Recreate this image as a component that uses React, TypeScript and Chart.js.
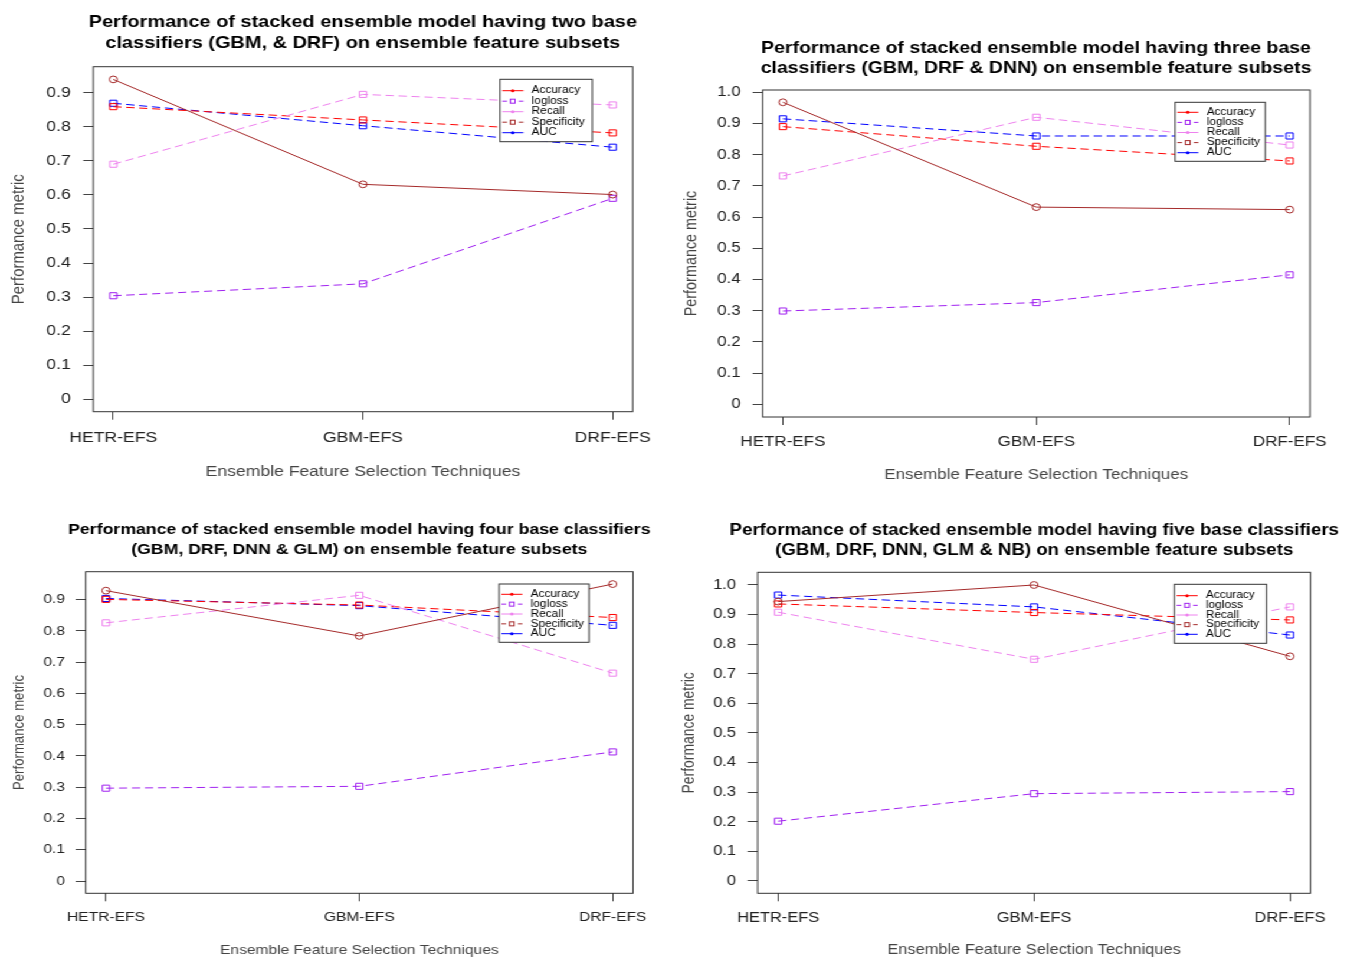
import React, { useEffect, useRef } from 'react';
import { Chart, registerables } from 'chart.js';

Chart.register(...registerables);

// horizontal stretch of the reference picture
const S = 1.18;
const FONT = '"Liberation Sans", Arial, Helvetica, sans-serif';
Chart.defaults.font.family = FONT;

// ---------------- data ----------------
const categories = ['HETR-EFS', 'GBM-EFS', 'DRF-EFS'];
const seriesNames = ['Accuracy', 'logloss', 'Recall', 'Specificity', 'AUC'];
const yTicksTo09 = [0, 0.1, 0.2, 0.3, 0.4, 0.5, 0.6, 0.7, 0.8, 0.9];
const yTicksTo10 = [0, 0.1, 0.2, 0.3, 0.4, 0.5, 0.6, 0.7, 0.8, 0.9, 1.0];

// two base classifiers (GBM, DRF)
const accuracy2 = [0.939, 0.631, 0.601];
const logloss2 = [0.304, 0.339, 0.59];
const recall2 = [0.69, 0.895, 0.864];
const specificity2 = [0.859, 0.82, 0.782];
const auc2 = [0.869, 0.803, 0.74];

// three base classifiers (GBM, DRF, DNN)
const accuracy3 = [0.968, 0.632, 0.624];
const logloss3 = [0.299, 0.326, 0.415];
const recall3 = [0.732, 0.92, 0.831];
const specificity3 = [0.89, 0.827, 0.78];
const auc3 = [0.915, 0.86, 0.86];

// four base classifiers (GBM, DRF, DNN, GLM)
const accuracy4 = [0.929, 0.784, 0.95];
const logloss4 = [0.297, 0.303, 0.413];
const recall4 = [0.826, 0.914, 0.665];
const specificity4 = [0.901, 0.883, 0.843];
const auc4 = [0.904, 0.881, 0.818];

// five base classifiers (GBM, DRF, DNN, GLM, NB)
const accuracy5 = [0.944, 1.0, 0.759];
const logloss5 = [0.202, 0.295, 0.302];
const recall5 = [0.908, 0.749, 0.926];
const specificity5 = [0.936, 0.907, 0.882];
const auc5 = [0.966, 0.926, 0.831];

// ---------------- styles ----------------
const lineColors = ['#A52A2A', '#A020F0', '#EE82EE', '#FF0000', '#0000FF'];
const lineDashed = [false, true, true, true, true];
const pointShapes = ['circle', 'rect', 'rect', 'rect', 'rect'];
const pointSizes = [3.4, 4.3, 4.3, 4.3, 4.3];
// legend as printed in the figure
const legendColors = ['#FF0000', '#A020F0', '#EE82EE', '#A52A2A', '#0000FF'];
const legendDashed = [false, true, false, true, false];
const legendShapes = ['circle', 'rect', 'circle', 'rect', 'circle'];

interface PanelSpec {
  title: string[];
  titleSize: number;
  titleY: [number, number];
  canvasLeft: number;
  canvasTop: number;
  canvasBottom: number;
  area: { L: number; R: number; T: number; B: number };
  yMin: number;
  yMax: number;
  yTicks: number[];
  axisFont: number;
  yLabelRight: number;
  xLabelY: number;
  yTitleX: number;
  xTitleY: number;
  legend: { l: number; t: number; r: number; b: number; first: number; gap: number };
  values: number[][];
}

const panels: PanelSpec[] = [
  {
    title: [
      'Performance of stacked ensemble model having two base',
      'classifiers (GBM, & DRF) on ensemble feature subsets',
    ],
    titleSize: 16.9,
    titleY: [22, 43],
    canvasLeft: 0,
    canvasTop: 0,
    canvasBottom: 495,
    area: { L: 93.3, R: 632.7, T: 66.7, B: 411.7 },
    yMin: -0.0364,
    yMax: 0.9763,
    yTicks: yTicksTo09,
    axisFont: 14.9,
    yLabelRight: 70.7,
    xLabelY: 437.7,
    yTitleX: 19,
    xTitleY: 472,
    legend: { l: 500, t: 79.3, r: 592.3, b: 141.7, first: 11.4, gap: 10.5 },
    values: [accuracy2, logloss2, recall2, specificity2, auc2],
  },
  {
    title: [
      'Performance of stacked ensemble model having three base',
      'classifiers (GBM, DRF & DNN) on ensemble feature subsets',
    ],
    titleSize: 16.5,
    titleY: [48, 68],
    canvasLeft: 675,
    canvasTop: 0,
    canvasBottom: 495,
    area: { L: 762.7, R: 1310, T: 90, B: 417 },
    yMin: -0.0407,
    yMax: 1.0074,
    yTicks: yTicksTo10,
    axisFont: 14.4,
    yLabelRight: 740.7,
    xLabelY: 441.7,
    yTitleX: 691,
    xTitleY: 475,
    legend: { l: 1175.1, t: 102.3, r: 1265.3, b: 161.3, first: 10, gap: 10.1 },
    values: [accuracy3, logloss3, recall3, specificity3, auc3],
  },
  {
    title: [
      'Performance of stacked ensemble model having four base classifiers',
      '(GBM, DRF, DNN & GLM) on ensemble feature subsets',
    ],
    titleSize: 15,
    titleY: [530, 550],
    canvasLeft: 0,
    canvasTop: 495,
    canvasBottom: 958,
    area: { L: 85.7, R: 633, T: 571.7, B: 893.3 },
    yMin: -0.0393,
    yMax: 0.9896,
    yTicks: yTicksTo09,
    axisFont: 13.2,
    yLabelRight: 65,
    xLabelY: 917.7,
    yTitleX: 19.5,
    xTitleY: 950,
    legend: { l: 499.1, t: 584, r: 589, b: 642.3, first: 10.3, gap: 9.85 },
    values: [accuracy4, logloss4, recall4, specificity4, auc4],
  },
  {
    title: [
      'Performance of stacked ensemble model having five base classifiers',
      '(GBM, DRF, DNN, GLM & NB) on ensemble feature subsets',
    ],
    titleSize: 15.8,
    titleY: [531, 551],
    canvasLeft: 675,
    canvasTop: 495,
    canvasBottom: 958,
    area: { L: 757.7, R: 1310.5, T: 572.3, B: 893.3 },
    yMin: -0.0416,
    yMax: 1.0429,
    yTicks: yTicksTo10,
    axisFont: 13.9,
    yLabelRight: 736,
    xLabelY: 917.7,
    yTitleX: 689.5,
    xTitleY: 950,
    legend: { l: 1174.4, t: 584.3, r: 1266.6, b: 643.3, first: 11.4, gap: 9.65 },
    values: [accuracy5, logloss5, recall5, specificity5, auc5],
  },
];

// ---------------- plugins ----------------
const framePlugin = {
  id: 'rFrame',
  afterDraw(chart: any) {
    const { ctx, chartArea: a } = chart;
    ctx.save();
    ctx.strokeStyle = '#333';
    ctx.lineWidth = 1;
    ctx.setLineDash([]);
    ctx.strokeRect(a.left, a.top, a.right - a.left, a.bottom - a.top);
    ctx.restore();
  },
};

const legendPlugin = {
  id: 'rLegend',
  afterDraw(chart: any, _args: any, o: any) {
    const { ctx } = chart;
    const { l, t, r, b, rows, x1, x2, mx, tx } = o;
    ctx.save();
    ctx.fillStyle = '#ffffff';
    ctx.fillRect(l, t, r - l, b - t);
    ctx.strokeStyle = '#333';
    ctx.lineWidth = 1;
    ctx.strokeRect(l, t, r - l, b - t);
    ctx.font = `10px ${FONT}`;
    ctx.textBaseline = 'middle';
    ctx.textAlign = 'left';
    seriesNames.forEach((name, i) => {
      const y = rows[i];
      ctx.strokeStyle = legendColors[i];
      ctx.lineWidth = 1;
      ctx.setLineDash(legendDashed[i] ? [4, 3] : []);
      ctx.beginPath();
      ctx.moveTo(x1, y);
      ctx.lineTo(x2, y);
      ctx.stroke();
      ctx.setLineDash([]);
      if (legendShapes[i] === 'circle') {
        ctx.fillStyle = legendColors[i];
        ctx.beginPath();
        ctx.arc(mx, y, 1.5, 0, Math.PI * 2);
        ctx.fill();
      } else {
        ctx.fillStyle = '#fff';
        ctx.fillRect(mx - 2, y - 2, 4, 4);
        ctx.strokeRect(mx - 2, y - 2, 4, 4);
      }
      ctx.fillStyle = '#000';
      ctx.fillText(name, tx, y);
    });
    ctx.restore();
  },
};

// ---------------- geometry/config ----------------
function geometry(p: PanelSpec) {
  const Lc = p.canvasLeft;
  const Tc = p.canvasTop;
  const center = (p.area.L + p.area.R) / 2;
  const Rc = 2 * center - Lc;
  const widthU = Math.round((Rc - Lc) / S);
  const height = p.canvasBottom - Tc;
  return { Lc, Tc, widthU, height };
}

function makeConfig(p: PanelSpec) {
  const { Lc, Tc, widthU, height } = geometry(p);
  const ux = (px: number) => (px - Lc) / S;
  const uy = (py: number) => py - Tc;
  const titleLH = p.titleY[1] - p.titleY[0];
  const titlePadTop = uy(p.titleY[0]) - titleLH / 2;
  const titlePadBottom = uy(p.area.T) - titlePadTop - 2 * titleLH;
  const yWidth = ux(p.area.L);
  const rightPad = widthU - ux(p.area.R);
  const xHeight = height - uy(p.area.B);
  const yTickLen = 8.5;
  const xTickLen = 8;
  const yPad = (p.area.L - p.yLabelRight) / S - yTickLen;
  const xPad = p.xLabelY - p.area.B - xTickLen - p.axisFont * 0.6;
  const yTitlePad = ux(p.yTitleX) - p.axisFont / 2;
  const xTitlePad = p.canvasBottom - p.xTitleY - p.axisFont / 2;
  const lg = p.legend;
  const rows = seriesNames.map((_, i) => uy(lg.t + lg.first + i * lg.gap));

  const datasets = seriesNames.map((name, i) => ({
    label: name,
    data: categories.map((_, j) => ({ x: j + 1, y: p.values[i][j] })),
    borderColor: lineColors[i],
    backgroundColor: 'rgba(0,0,0,0)',
    borderWidth: 1,
    borderDash: lineDashed[i] ? [7, 4] : [],
    pointStyle: pointShapes[i],
    pointRadius: pointSizes[i],
    pointBorderWidth: 1,
    pointBorderColor: lineColors[i],
    pointBackgroundColor: 'rgba(0,0,0,0)',
    tension: 0,
    fill: false,
    yAxisID: 'y',
    xAxisID: 'x',
  }));

  return {
    type: 'line',
    data: { datasets },
    plugins: [framePlugin, legendPlugin],
    options: {
      responsive: false,
      animation: false,
      devicePixelRatio: 1,
      events: [],
      layout: { autoPadding: false, padding: 0 },
      scales: {
        x: {
          type: 'linear',
          position: 'bottom',
          min: 0.92,
          max: 3.08,
          afterBuildTicks: (scale: any) => {
            scale.ticks = categories.map((_, j) => ({ value: j + 1 }));
          },
          afterFit: (scale: any) => {
            scale.height = xHeight;
          },
          ticks: {
            autoSkip: false,
            maxRotation: 0,
            minRotation: 0,
            padding: xPad,
            color: '#222',
            font: { size: p.axisFont },
            callback: (v: any) => categories[Math.round(Number(v)) - 1] ?? '',
          },
          grid: {
            drawOnChartArea: false,
            drawTicks: true,
            tickLength: xTickLen,
            tickColor: '#444',
            color: '#444',
          },
          border: { display: false },
          title: {
            display: true,
            text: 'Ensemble Feature Selection Techniques',
            color: '#444',
            font: { size: p.axisFont, lineHeight: 1 },
            padding: { top: 0, bottom: xTitlePad },
          },
        },
        y: {
          type: 'linear',
          position: 'left',
          min: p.yMin,
          max: p.yMax,
          afterBuildTicks: (scale: any) => {
            scale.ticks = p.yTicks.map((v) => ({ value: v }));
          },
          afterFit: (scale: any) => {
            scale.width = yWidth;
          },
          ticks: {
            padding: yPad,
            color: '#222',
            font: { size: p.axisFont },
            callback: (v: any) => (Math.abs(Number(v)) < 1e-9 ? '0' : Number(v).toFixed(1)),
          },
          grid: {
            drawOnChartArea: false,
            drawTicks: true,
            tickLength: yTickLen,
            tickColor: '#444',
            color: '#444',
          },
          border: { display: false },
          title: {
            display: true,
            text: 'Performance metric',
            color: '#444',
            font: { size: p.axisFont, lineHeight: 1 },
            padding: { top: yTitlePad, bottom: 0 },
          },
        },
        // empty spacer on the right so the title stays centred over the plot box
        spacer: {
          type: 'linear',
          position: 'right',
          min: 0,
          max: 1,
          afterFit: (scale: any) => {
            scale.width = rightPad;
          },
          ticks: { display: false },
          grid: { display: false },
          border: { display: false },
          title: { display: false },
        },
      },
      plugins: {
        legend: { display: false },
        tooltip: { enabled: false },
        title: {
          display: true,
          text: p.title,
          color: '#000',
          fullSize: true,
          font: { size: p.titleSize, weight: 'bold', lineHeight: titleLH / p.titleSize },
          padding: { top: titlePadTop, bottom: titlePadBottom },
        },
        rLegend: {
          l: ux(lg.l),
          t: uy(lg.t),
          r: ux(lg.r),
          b: uy(lg.b),
          rows,
          x1: ux(lg.l + 2.3),
          x2: ux(lg.l + 23.3),
          mx: ux(lg.l + 12.7),
          tx: ux(lg.l + 31.7),
        },
      },
    },
  };
}

function Panel({ spec }: { spec: PanelSpec }) {
  const ref = useRef<HTMLCanvasElement | null>(null);
  const { widthU, height } = geometry(spec);
  useEffect(() => {
    if (!ref.current) return;
    const chart = new Chart(ref.current, makeConfig(spec) as any);
    return () => chart.destroy();
  }, [spec]);
  return (
    <canvas
      ref={ref}
      width={widthU}
      height={height}
      style={{
        position: 'absolute',
        left: spec.canvasLeft / S,
        top: spec.canvasTop,
        width: widthU,
        height,
      }}
    />
  );
}

export default function App() {
  return (
    <div
      style={{
        position: 'absolute',
        left: 0,
        top: 0,
        width: 1351,
        height: 958,
        overflow: 'hidden',
        background: '#fff',
      }}
    >
      <div
        style={{
          position: 'absolute',
          left: 0,
          top: 0,
          width: 1351 / S,
          height: 958,
          transform: `scaleX(${S})`,
          transformOrigin: '0 0',
        }}
      >
        {panels.map((p, i) => (
          <Panel key={i} spec={p} />
        ))}
      </div>
    </div>
  );
}
